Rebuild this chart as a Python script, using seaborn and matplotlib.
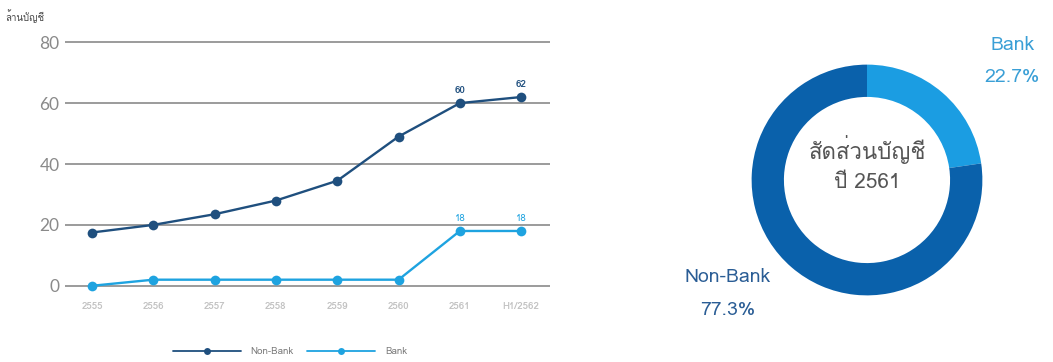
import numpy as np
import pandas as pd
import matplotlib
matplotlib.use("Agg")
import matplotlib.pyplot as plt
import seaborn as sns
from matplotlib import font_manager as fm
from matplotlib.ft2font import FT2Font
from matplotlib.lines import Line2D

# ---- data ----
periods = ["2555", "2556", "2557", "2558", "2559", "2560", "2561", "H1/2562"]
non_bank = [17.5, 20, 23.5, 28, 34.5, 49, 60, 62]
bank = [0, 2, 2, 2, 2, 2, 18, 18]
share_labels = ["Bank", "Non-Bank"]
share_values = [22.7, 77.3]
y_ticks = [0, 20, 40, 60, 80]

DARK = "#1f4f7e"
LIGHT = "#1ea3e0"
PIE_DARK = "#0a61ab"
PIE_LIGHT = "#1b9de2"


def thai_family():
    """First installed family that covers the Thai block."""
    for f in fm.fontManager.ttflist:
        try:
            if FT2Font(f.fname).get_char_index(0x0E2A):
                return f.name
        except Exception:
            pass
    return None


sns.set_theme(style="white")
tf = thai_family()
plt.rcParams["font.family"] = ([tf] if tf else []) + ["DejaVu Sans"]

W, H = 1053, 362
fig = plt.figure(figsize=(W / 100, H / 100), dpi=100)

# ---- line chart ----
ax = fig.add_axes([65 / W, 1 - 301 / H, (550 - 65) / W, (301 - 27) / H])
df = pd.DataFrame({
    "value": non_bank + bank,
    "series": ["Non-Bank"] * len(periods) + ["Bank"] * len(periods),
})
df["pos"] = np.tile(np.arange(len(periods)), 2)
sns.lineplot(data=df, x="pos", y="value", hue="series",
             palette={"Non-Bank": DARK, "Bank": LIGHT},
             marker="o", markersize=7, markeredgewidth=0, linewidth=1.7,
             ax=ax, legend=False, zorder=3)
for ln in ax.lines:
    ln.set_clip_on(False)

ax.set_xlim(-0.44, len(periods) - 1 + 0.47)
ax.set_ylim(-5, 85)
for t in y_ticks:
    ax.axhline(t, color="#8a8a8a", lw=1.2, zorder=1)
ax.set_yticks(y_ticks)
ax.set_yticklabels([str(t) for t in y_ticks], fontsize=12.5, color="#8a8a8a",
                   family=["Lato", "DejaVu Sans"])
ax.tick_params(axis="y", length=0, pad=4)
ax.set_xticks(range(len(periods)))
ax.set_xticklabels(periods, fontsize=7, color="#c2c2c2", fontweight="bold")
ax.tick_params(axis="x", length=0, pad=1)
for s in ax.spines.values():
    s.set_visible(False)
ax.set_xlabel("")
ax.set_ylabel("")

for i in (6, 7):
    ax.annotate(f"{non_bank[i]:g}", (i, non_bank[i]), xytext=(0, 6),
                textcoords="offset points", ha="center", va="bottom",
                fontsize=7, color=DARK, fontweight="bold")
    ax.annotate(f"{bank[i]:g}", (i, bank[i]), xytext=(0, 6),
                textcoords="offset points", ha="center", va="bottom",
                fontsize=7, color=LIGHT)

fig.text(5 / W, 1 - 16 / H, "ล้านบัญชี", fontsize=7, color="#444444",
         ha="left", va="center")

handles = [Line2D([], [], color=DARK, marker="o", markersize=5, lw=1.3,
                  markeredgewidth=0),
           Line2D([], [], color=LIGHT, marker="o", markersize=5, lw=1.3,
                  markeredgewidth=0)]
fig.legend(handles, ["Non-Bank", "Bank"], loc="center",
           bbox_to_anchor=(290 / W, 1 - 352 / H), ncol=2, frameon=False,
           fontsize=7, handlelength=7, columnspacing=1.4, handletextpad=1.0,
           labelcolor="#7a7a7a")

# ---- donut ----
cx, cy, box = 867, 180, 300
ax2 = fig.add_axes([(cx - box / 2) / W, 1 - (cy + box / 2) / H, box / W, box / H])
ax2.pie(share_values, colors=[PIE_LIGHT, PIE_DARK], startangle=90,
        counterclock=False, radius=1,
        wedgeprops=dict(width=0.28, linewidth=0))
ax2.set_xlim(-1.3, 1.3)
ax2.set_ylim(-1.3, 1.3)
ax2.set_aspect("equal")
ax2.axis("off")

ax2.text(0, 0.26, "สัดส่วนบัญชี", ha="center", va="center", fontsize=16,
         color="#555555")
ax2.text(0, -0.02, "ปี 2561", ha="center", va="center", fontsize=15,
         color="#555555")
ax2.text(1.26, 1.17, share_labels[0], ha="center", va="center", fontsize=14,
         color="#3a9fd6")
ax2.text(1.26, 0.89, f"{share_values[0]:.1f}%", ha="center", va="center",
         fontsize=14, color="#3a9fd6")
ax2.text(-1.21, -0.84, share_labels[1], ha="center", va="center", fontsize=14,
         color="#2a5d95")
ax2.text(-1.21, -1.13, f"{share_values[1]:.1f}%", ha="center", va="center",
         fontsize=14, color="#2a5d95")

fig.savefig("out.png", dpi=100, facecolor="white")
